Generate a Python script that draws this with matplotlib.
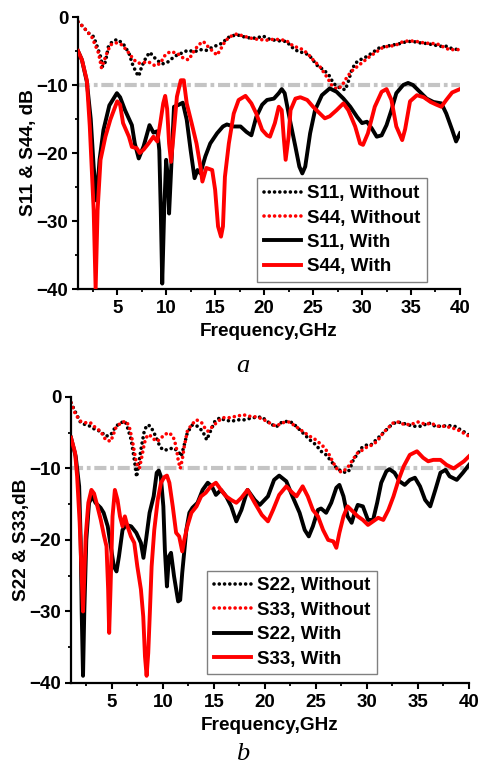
import numpy as np
import matplotlib
matplotlib.use('Agg')
import matplotlib.pyplot as plt
from matplotlib.ticker import MultipleLocator

plt.rcParams['font.family'] = 'Liberation Sans'
plt.rcParams['font.weight'] = 'bold'

# ---- panel a : S11 / S44 ----
f11o = [1.0, 1.5, 2.1, 2.6, 2.9, 3.3, 3.5, 3.8, 4.1, 4.5, 5.0, 5.6, 6.2, 6.6, 7.0, 7.2, 7.5, 7.9, 8.3, 8.6,
        9.0, 9.6, 10.1, 10.6, 11.1, 11.6, 12.2, 12.9, 13.5, 14.1, 14.8, 15.3, 15.8, 16.2, 16.7, 17.2, 17.9, 18.6, 19.2, 19.9,
        20.6, 21.5, 22.3, 22.8, 23.5, 24.2, 24.7, 25.4, 26.1, 26.6, 27.1, 27.8, 28.3, 28.6, 28.9, 29.3, 29.8, 30.5, 31.2, 31.8,
        32.5, 33.2, 33.9, 34.6, 35.2, 35.9, 36.6, 37.3, 38.0, 38.6, 39.1, 39.8, 40.0]
s11o = [-0.7, -1.4, -2.4, -2.9, -4.1, -5.8, -7.3, -6.6, -4.4, -3.6, -3.3, -3.9, -5.3, -7.1, -8.3, -8.7, -7.3, -6.1, -5.2, -5.6,
        -6.3, -6.9, -6.7, -6.1, -5.6, -5.3, -4.9, -5.1, -4.8, -4.9, -4.4, -4.1, -3.8, -3.1, -2.8, -2.6, -2.9, -3.1, -3.1, -2.8,
        -3.3, -3.5, -3.6, -4.4, -5.1, -5.3, -5.8, -7.1, -7.8, -8.5, -9.8, -10.5, -10.7, -9.5, -8.0, -6.8, -6.3, -5.8, -5.1, -4.5,
        -4.3, -4.1, -3.9, -3.6, -3.6, -3.8, -3.9, -4.1, -4.3, -4.3, -4.6, -4.8, -4.8]

f44o = [1.0, 1.5, 2.4, 3.1, 3.4, 3.8, 4.3, 4.9, 5.5, 6.2, 6.7, 7.2, 7.6, 8.2, 8.9, 9.4, 9.9, 10.4, 11.1, 11.8,
        12.3, 12.8, 13.3, 13.8, 14.3, 14.8, 15.2, 15.7, 16.0, 16.5, 17.2, 17.9, 18.6, 19.4, 20.3, 20.6, 21.6, 22.3, 23.0, 23.7,
        24.4, 25.0, 25.7, 26.4, 26.9, 27.4, 27.9, 28.4, 28.9, 29.5, 30.1, 30.8, 31.5, 32.2, 32.9, 33.5, 34.2, 34.9, 35.6, 36.3,
        37.0, 37.6, 38.3, 38.9, 39.8, 40.0]
s44o = [-0.7, -1.4, -2.9, -5.3, -7.5, -5.9, -4.1, -3.8, -4.1, -5.3, -6.3, -6.8, -6.7, -6.6, -7.2, -6.8, -5.6, -5.1, -5.3, -6.1,
        -6.3, -5.1, -4.1, -3.6, -4.4, -5.1, -5.6, -4.4, -3.6, -2.9, -2.5, -2.8, -3.1, -3.3, -3.4, -3.3, -3.3, -3.5, -4.3, -4.6,
        -5.3, -6.3, -7.3, -8.8, -10.0, -10.6, -10.2, -9.0, -8.0, -7.3, -6.6, -5.8, -5.1, -4.4, -4.3, -4.1, -3.6, -3.5, -3.6, -3.8,
        -3.9, -3.9, -4.4, -4.8, -4.8, -4.9]

f11w = [1.0, 1.4, 1.9, 2.3, 2.6, 2.9, 3.2, 3.6, 4.2, 4.97, 5.3, 5.8, 6.5, 6.8, 7.2, 7.7, 8.3, 8.7, 9.1, 9.3,
        9.45, 9.6, 9.8, 10.0, 10.2, 10.3, 10.6, 10.8, 11.3, 11.7, 12.1, 12.5, 12.9, 13.2, 13.5, 14.0, 14.5, 15.2, 15.8, 16.2,
        16.9, 17.6, 18.2, 18.7, 19.2, 19.8, 20.3, 21.0, 21.5, 21.8, 22.1, 22.7, 23.2, 23.6, 23.9, 24.2, 24.7, 25.2, 25.9, 26.7,
        27.4, 28.1, 28.8, 29.5, 30.0, 30.5, 31.0, 31.5, 32.0, 32.5, 33.0, 33.5, 34.2, 34.7, 35.2, 35.9, 36.6, 37.3, 38.1, 38.6,
        39.2, 39.6, 40.0]
s11w = [-5.0, -6.3, -9.5, -15.0, -22.0, -27.0, -21.0, -16.6, -13.0, -11.2, -11.8, -13.7, -15.9, -18.6, -20.8, -19.0, -15.9, -17.0, -16.8, -19.6,
        -28.4, -39.2, -28.4, -21.0, -24.0, -28.9, -19.6, -13.2, -12.9, -12.6, -15.1, -19.6, -23.7, -22.5, -23.0, -20.5, -18.6, -17.1, -16.1, -15.8,
        -16.1, -16.1, -16.9, -17.4, -14.7, -12.9, -12.2, -12.0, -11.2, -10.6, -11.2, -15.6, -19.1, -22.0, -23.0, -22.0, -17.1, -13.7, -11.5, -10.5,
        -11.0, -12.0, -13.2, -14.7, -15.6, -15.4, -16.4, -17.6, -17.4, -15.9, -13.7, -11.2, -10.0, -9.7, -10.0, -11.0, -12.0, -12.5, -12.7, -14.2,
        -16.6, -18.3, -17.1]

f44w = [1.0, 1.4, 1.9, 2.2, 2.6, 2.8, 3.0, 3.3, 3.8, 4.3, 5.0, 5.3, 5.6, 6.2, 6.5, 7.0, 7.3, 7.7, 8.2, 8.7,
        9.1, 9.4, 9.7, 9.9, 10.1, 10.3, 10.5, 10.8, 11.1, 11.5, 11.8, 12.1, 12.6, 13.1, 13.5, 13.7, 14.1, 14.7, 15.0, 15.3,
        15.6, 15.8, 16.0, 16.4, 16.9, 17.4, 18.1, 18.7, 19.2, 19.8, 20.3, 20.6, 21.1, 21.5, 21.8, 22.0, 22.2, 22.5, 22.7, 23.2,
        23.7, 24.4, 25.0, 25.7, 26.2, 26.7, 27.4, 28.1, 28.6, 29.3, 29.8, 30.1, 30.6, 31.3, 32.0, 32.5, 33.0, 33.5, 34.1, 34.4,
        34.9, 35.6, 36.3, 37.0, 37.6, 38.1, 38.6, 39.2, 40.0]
s44w = [-5.0, -6.3, -9.3, -16.0, -28.4, -40.0, -28.4, -21.0, -17.6, -15.1, -12.4, -12.9, -15.6, -17.6, -19.1, -19.3, -20.0, -19.5, -18.6, -17.6,
        -18.3, -15.6, -12.7, -11.6, -13.5, -18.6, -21.3, -16.6, -11.7, -9.3, -9.3, -12.7, -15.6, -18.6, -22.0, -24.2, -22.2, -22.5, -25.4, -30.8,
        -32.3, -30.8, -23.5, -18.6, -14.2, -12.2, -11.6, -12.7, -14.2, -16.6, -17.4, -17.6, -15.6, -13.2, -13.7, -17.6, -21.0, -17.6, -13.7, -12.0,
        -11.8, -12.2, -13.2, -14.2, -14.9, -14.6, -13.7, -12.7, -13.7, -16.1, -18.6, -18.8, -17.1, -13.2, -11.0, -10.6, -12.2, -16.1, -18.1, -16.5,
        -12.4, -11.5, -11.8, -12.5, -12.9, -13.2, -12.2, -11.1, -10.6]

# ---- panel b : S22 / S33 ----
f22o = [1.0, 1.46, 1.95, 2.44, 2.9, 3.4, 3.9, 4.4, 4.9, 5.4, 5.9, 6.3, 6.5, 6.9, 7.1, 7.3, 7.43, 7.6, 7.85, 8.2,
        8.5, 8.8, 9.3, 9.7, 10.0, 10.5, 11.0, 11.5, 11.8, 12.1, 12.4, 12.9, 13.4, 13.9, 14.3, 14.6, 15.1, 15.6, 16.0, 16.7,
        17.4, 18.0, 18.8, 19.7, 20.4, 21.1, 21.6, 22.2, 22.7, 23.2, 23.7, 24.4, 25.0, 25.5, 26.0, 26.5, 27.0, 27.5, 28.0, 28.3,
        28.6, 29.0, 29.5, 30.0, 30.4, 30.9, 31.4, 31.9, 32.4, 32.9, 33.4, 34.0, 34.7, 35.4, 36.0, 36.7, 37.3, 38.0, 38.6, 39.3,
        40.0]
s22o = [-0.8, -2.2, -3.6, -3.9, -4.1, -4.6, -4.8, -5.5, -5.3, -4.1, -3.6, -3.4, -4.1, -6.0, -7.8, -9.7, -11.2, -9.7, -7.4, -4.6,
        -3.9, -4.1, -5.5, -6.9, -7.4, -7.4, -7.1, -7.6, -8.3, -6.7, -5.0, -3.9, -4.1, -4.8, -6.0, -5.0, -3.4, -2.9, -3.2, -3.4,
        -3.2, -3.2, -2.9, -2.8, -3.6, -4.2, -3.6, -3.4, -3.6, -4.3, -5.0, -6.0, -6.7, -7.6, -8.1, -9.0, -9.9, -10.4, -10.6, -10.2,
        -9.0, -8.1, -7.1, -6.7, -6.7, -6.0, -5.3, -4.6, -3.9, -3.5, -3.6, -3.9, -4.1, -4.1, -3.6, -4.1, -4.1, -4.0, -4.1, -4.7,
        -5.3]

f33o = [1.0, 1.46, 1.95, 2.44, 2.9, 3.4, 3.9, 4.4, 4.9, 5.4, 5.9, 6.4, 6.7, 7.0, 7.2, 7.4, 7.7, 7.95, 8.2, 8.5,
        8.9, 9.3, 9.7, 10.1, 10.6, 11.0, 11.3, 11.5, 11.7, 11.9, 12.1, 12.4, 12.8, 13.3, 13.8, 14.1, 14.4, 14.9, 15.4, 15.9,
        16.5, 17.2, 17.9, 18.5, 19.2, 19.8, 20.4, 21.1, 21.7, 22.4, 23.0, 23.7, 24.4, 25.0, 25.7, 26.2, 26.7, 27.2, 27.6, 28.1,
        28.6, 29.1, 29.6, 30.1, 30.6, 31.1, 31.6, 32.1, 32.6, 33.1, 33.7, 34.4, 35.0, 35.7, 36.3, 37.0, 37.6, 38.3, 38.9, 39.4,
        40.0]
s33o = [-0.8, -2.5, -3.4, -3.6, -3.6, -4.3, -4.8, -6.0, -6.2, -4.3, -3.6, -3.4, -4.1, -6.0, -7.6, -9.2, -10.0, -8.3, -6.4, -5.3,
        -5.5, -6.2, -6.0, -5.3, -5.0, -5.5, -6.9, -8.8, -10.0, -8.8, -6.9, -4.8, -3.9, -3.2, -3.6, -4.3, -4.8, -4.1, -3.4, -2.9,
        -2.9, -2.7, -2.5, -2.7, -2.8, -3.1, -3.6, -4.1, -3.6, -3.5, -4.1, -4.8, -5.5, -6.0, -6.9, -7.8, -9.2, -10.4, -10.5, -9.9,
        -8.8, -7.8, -7.4, -6.9, -6.7, -6.0, -5.0, -4.3, -3.6, -3.5, -3.9, -3.8, -3.5, -3.8, -3.7, -4.1, -4.1, -4.3, -4.6, -5.0,
        -5.5]

f22w = [1.0, 1.46, 1.8, 1.95, 2.05, 2.18, 2.3, 2.5, 2.77, 3.1, 3.4, 3.9, 4.2, 4.6, 4.9, 5.2, 5.46, 5.7, 6.05, 6.4,
        6.9, 7.4, 7.85, 8.1, 8.35, 8.7, 9.1, 9.4, 9.6, 9.8, 10.05, 10.2, 10.4, 10.6, 10.8, 11.1, 11.5, 11.7, 11.9, 12.3,
        12.6, 12.9, 13.4, 13.9, 14.4, 14.8, 15.2, 15.7, 16.2, 16.7, 17.2, 17.7, 18.3, 19.0, 19.5, 20.3, 20.9, 21.4, 22.1, 22.7,
        23.4, 23.9, 24.3, 24.7, 25.2, 25.5, 26.0, 26.5, 27.0, 27.3, 27.7, 28.1, 28.5, 28.8, 29.1, 29.6, 30.1, 30.6, 31.0, 31.4,
        31.9, 32.2, 32.7, 33.2, 33.7, 34.2, 34.7, 35.2, 35.7, 36.2, 36.7, 37.2, 37.7, 38.1, 38.8, 39.4, 40.0]
s22w = [-5.7, -8.3, -12.5, -20.0, -30.2, -39.0, -30.2, -20.0, -14.8, -13.9, -14.8, -15.5, -16.2, -18.1, -20.9, -23.7, -24.4, -22.3, -18.6, -17.9,
        -18.1, -19.0, -20.4, -22.5, -20.0, -16.2, -13.9, -10.6, -10.3, -11.1, -15.3, -21.4, -26.5, -22.3, -21.8, -25.1, -28.6, -28.4, -24.6, -18.6,
        -16.2, -15.5, -14.8, -13.0, -12.0, -12.5, -13.7, -13.0, -13.9, -15.3, -17.4, -15.8, -13.0, -14.4, -15.1, -13.9, -11.6, -11.0, -11.8, -13.9,
        -16.2, -18.6, -19.5, -18.1, -15.8, -15.6, -16.2, -14.8, -12.7, -12.3, -13.9, -16.7, -17.6, -16.2, -15.1, -15.3, -17.2, -17.2, -14.8, -12.0,
        -10.4, -10.1, -10.6, -11.8, -12.3, -11.6, -11.3, -12.5, -14.4, -15.3, -13.0, -10.6, -10.2, -11.1, -11.6, -10.6, -9.5]

f33w = [1.0, 1.4, 1.6, 1.85, 2.05, 2.18, 2.3, 2.44, 2.7, 3.0, 3.26, 3.59, 3.92, 4.25, 4.48, 4.64, 4.74, 4.87, 5.07, 5.3,
        5.56, 5.8, 6.05, 6.28, 6.54, 6.87, 7.2, 7.5, 7.85, 8.08, 8.25, 8.41, 8.57, 8.74, 8.9, 9.16, 9.5, 9.82, 10.15, 10.4,
        10.64, 10.97, 11.3, 11.6, 11.9, 12.1, 12.4, 12.8, 13.3, 13.75, 14.2, 14.7, 15.2, 15.7, 16.2, 16.7, 17.2, 17.7, 18.3, 19.0,
        19.7, 20.3, 20.8, 21.4, 22.1, 22.7, 23.1, 23.7, 24.2, 24.7, 25.2, 25.7, 26.2, 26.7, 27.0, 27.3, 27.7, 28.1, 28.6, 29.1,
        29.6, 30.1, 30.6, 31.1, 31.6, 32.1, 32.6, 33.1, 33.6, 34.2, 34.9, 35.5, 36.0, 36.5, 37.2, 37.8, 38.5, 39.0, 39.5, 40.0]
s33w = [-5.7, -7.8, -11.1, -17.6, -25.1, -30.0, -25.0, -19.5, -14.8, -13.0, -13.5, -15.3, -17.2, -19.5, -20.9, -26.9, -33.0, -27.0, -16.7, -13.0,
        -14.4, -16.7, -18.1, -16.7, -18.1, -19.5, -20.4, -23.7, -26.9, -30.7, -36.3, -39.0, -35.8, -29.7, -23.7, -18.6, -14.4, -12.0, -11.2, -11.0,
        -12.0, -15.3, -19.0, -19.5, -21.6, -20.0, -18.1, -16.2, -15.3, -13.9, -13.4, -12.5, -12.0, -13.0, -13.9, -14.4, -14.8, -14.1, -13.0, -14.8,
        -16.5, -17.4, -15.8, -13.7, -12.5, -13.4, -13.9, -12.5, -13.9, -15.8, -16.7, -18.6, -20.0, -20.2, -21.1, -19.0, -16.7, -15.3, -16.0, -16.7,
        -17.2, -17.9, -17.4, -16.9, -17.2, -15.8, -13.9, -11.6, -9.7, -8.1, -7.6, -8.5, -9.0, -8.8, -8.8, -9.5, -10.0, -9.5, -9.0, -8.3]

ref_level = -10
xticks = [5, 10, 15, 20, 25, 30, 35, 40]
yticks = [-40, -30, -20, -10, 0]

dot = (0, (0.01, 1.45))
dashdot = (0, (2.9, 0.9, 0.9, 0.9))


def make_panel(ax, curves, labels, ylabel, leg_anchor):
    ax.plot([1, 40], [ref_level, ref_level], color='#c4c4c4', lw=3, linestyle=dashdot, zorder=1)
    f_o1, s_o1, f_o2, s_o2, f_w1, s_w1, f_w2, s_w2 = curves
    ax.plot(f_o1, s_o1, color='black', lw=2.6, linestyle=dot, dash_capstyle='round', label=labels[0], zorder=2)
    ax.plot(f_o2, s_o2, color='red', lw=2.6, linestyle=dot, dash_capstyle='round', label=labels[1], zorder=2)
    ax.plot(f_w1, s_w1, color='black', lw=2.8, label=labels[2], zorder=3)
    ax.plot(f_w2, s_w2, color='red', lw=2.8, label=labels[3], zorder=3)
    ax.set_xlim(1, 40)
    ax.set_ylim(-40, 0)
    ax.set_xticks(xticks)
    ax.set_yticks(yticks)
    ax.xaxis.set_minor_locator(MultipleLocator(2.5))
    ax.yaxis.set_minor_locator(MultipleLocator(5))
    ax.spines['top'].set_visible(False)
    ax.spines['right'].set_visible(False)
    ax.spines['left'].set_linewidth(1.6)
    ax.spines['bottom'].set_linewidth(1.6)
    ax.tick_params(which='major', direction='out', length=4.5, width=1.5, labelsize=13.5)
    ax.tick_params(which='minor', direction='out', length=2.5, width=1.3)
    ax.tick_params(axis='y', pad=2.5)
    for lab in ax.get_xticklabels() + ax.get_yticklabels():
        lab.set_fontweight('bold')
    ax.set_xlabel('Frequency,GHz', fontsize=13.7, fontweight='bold', labelpad=4)
    ax.set_ylabel(ylabel, fontsize=13.7, fontweight='bold', labelpad=0)
    leg = ax.legend(loc='lower left', bbox_to_anchor=leg_anchor, borderaxespad=0,
                    prop={'weight': 'bold', 'size': 13.5}, handlelength=2.0, handletextpad=0.3,
                    labelspacing=0.39, borderpad=0.35, fancybox=False, framealpha=1)
    leg.get_frame().set_edgecolor('#808080')
    leg.get_frame().set_linewidth(1.0)


fig = plt.figure(figsize=(4.8, 7.66), dpi=100)
ax1 = fig.add_axes([0.1625, 0.6227, 0.7958, 0.3551])
ax2 = fig.add_axes([0.1479, 0.1084, 0.8292, 0.3734])

make_panel(ax1, [f11o, s11o, f44o, s44o, f11w, s11w, f44w, s44w],
           ['S11, Without', 'S44, Without', 'S11, With', 'S44, With'], 'S11 & S44, dB', (0.469, 0.026))
make_panel(ax2, [f22o, s22o, f33o, s33o, f22w, s22w, f33w, s33w],
           ['S22, Without', 'S33, Without', 'S22, With', 'S33, With'], 'S22 & S33,dB', (0.342, 0.031))

fig.text(0.506, 0.514, 'a', fontsize=19, style='italic', fontweight='normal', family='Liberation Serif', ha='center')
fig.text(0.506, 0.008, 'b', fontsize=19, style='italic', fontweight='normal', family='Liberation Serif', ha='center')

plt.savefig('out.png', dpi=100)
